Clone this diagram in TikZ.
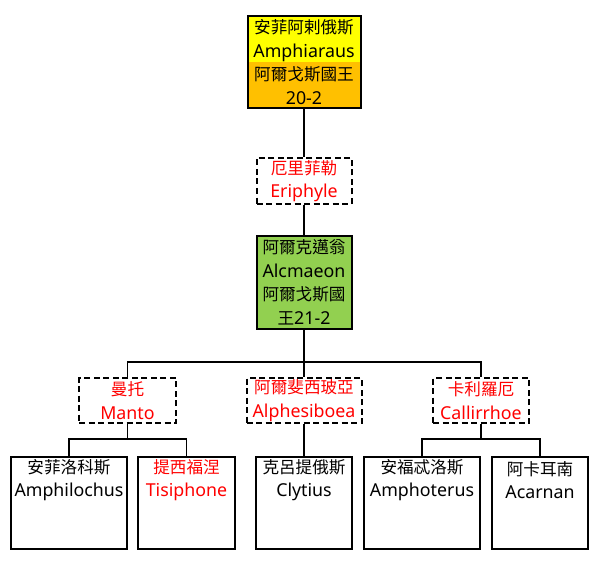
\documentclass[tikz,border=0pt]{standalone}
\usepackage{fontspec}
\setmainfont{Noto Sans}
\newfontfamily\cjkf{Noto Sans CJK TC}
\newcommand{\zh}[1]{{\cjkf\fontsize{16.6}{23.5}\selectfont #1}}
\definecolor{ryel}{HTML}{FFFF00}
\definecolor{rora}{HTML}{FFC000}
\definecolor{rgrn}{HTML}{92D050}
\definecolor{rred}{HTML}{FF0000}
\begin{document}
\begin{tikzpicture}[x=1pt,y=-1pt,
  every node/.style={inner sep=0pt,align=center,font=\fontsize{17.8}{23.5}\selectfont},
  solidbox/.style={draw,line width=2pt,fill=white},
  dashbox/.style={draw,line width=2pt,dash pattern=on 6pt off 3.5pt,fill=white,text=rred},
  conn/.style={line width=1.8pt}]
\useasboundingbox (0,0) rectangle (600,567);
% top
\node[solidbox,fill=ryel,minimum width=113pt,minimum height=92pt,
  path picture={\fill[rora] (path picture bounding box.west) rectangle (path picture bounding box.south east);}]
  (amph) at (304,62) {\zh{安菲阿剌俄斯}\\Amphiaraus\\\zh{阿爾戈斯國王}\\20-2};
\node[dashbox,minimum width=95pt,minimum height=46pt] (eri) at (304,181) {\zh{厄里菲勒}\\Eriphyle};
\node[solidbox,fill=rgrn,minimum width=95pt,minimum height=93pt] (alc) at (304,282.5) {\zh{阿爾克邁翁}\\Alcmaeon\\\zh{阿爾戈斯國}\\\zh{王}21-2};
% wives
\node[dashbox,minimum width=97pt,minimum height=45pt] (man) at (127.5,400.5) {\zh{曼托}\\Manto};
\node[dashbox,minimum width=115pt,minimum height=45pt] (alph) at (304,400.5) {\zh{阿爾斐西玻亞}\\Alphesiboea};
\node[dashbox,minimum width=96pt,minimum height=45pt] (cal) at (481,400.5) {\zh{卡利羅厄}\\Callirrhoe};
% children
\node[solidbox,minimum width=116pt,minimum height=92pt] (c1) at (69,503) {};
\node[solidbox,minimum width=97pt,minimum height=92pt] (c2) at (186.5,503) {};
\node[solidbox,minimum width=96pt,minimum height=92pt] (c3) at (304,503) {};
\node[solidbox,minimum width=116pt,minimum height=92pt] (c4) at (422,503) {};
\node[solidbox,minimum width=96pt,minimum height=92pt] (c5) at (540,503) {};
\node (t1) at ([yshift=-24pt]c1.north) {\zh{安菲洛科斯}\\Amphilochus};
\node[text=rred] (t2) at ([yshift=-24pt]c2.north) {\zh{提西福涅}\\Tisiphone};
\node (t3) at ([yshift=-24pt]c3.north) {\zh{克呂提俄斯}\\Clytius};
\node (t4) at ([yshift=-24pt]c4.north) {\zh{安福忒洛斯}\\Amphoterus};
\node (t5) at ([yshift=-24pt]c5.north) {\zh{阿卡耳南}\\Acarnan};
% junctions
\coordinate (j1) at (304,362);
\coordinate (j2) at (127.5,439);
\coordinate (j3) at (481,439);
% connectors
\draw[conn] (amph.south) -- (eri.north);
\draw[conn] (eri.south) -- (alc.north);
\draw[conn] (alc.south) -- (j1);
\draw[conn] (man.north) |- (j1) -| (cal.north);
\draw[conn] (j1) -- (alph.north);
\draw[conn] (man.south) -- (j2);
\draw[conn] (c1.north) |- (j2) -| (c2.north);
\draw[conn] (alph.south) -- (c3.north);
\draw[conn] (cal.south) -- (j3);
\draw[conn] (c4.north) |- (j3) -| (c5.north);
\end{tikzpicture}
\end{document}
